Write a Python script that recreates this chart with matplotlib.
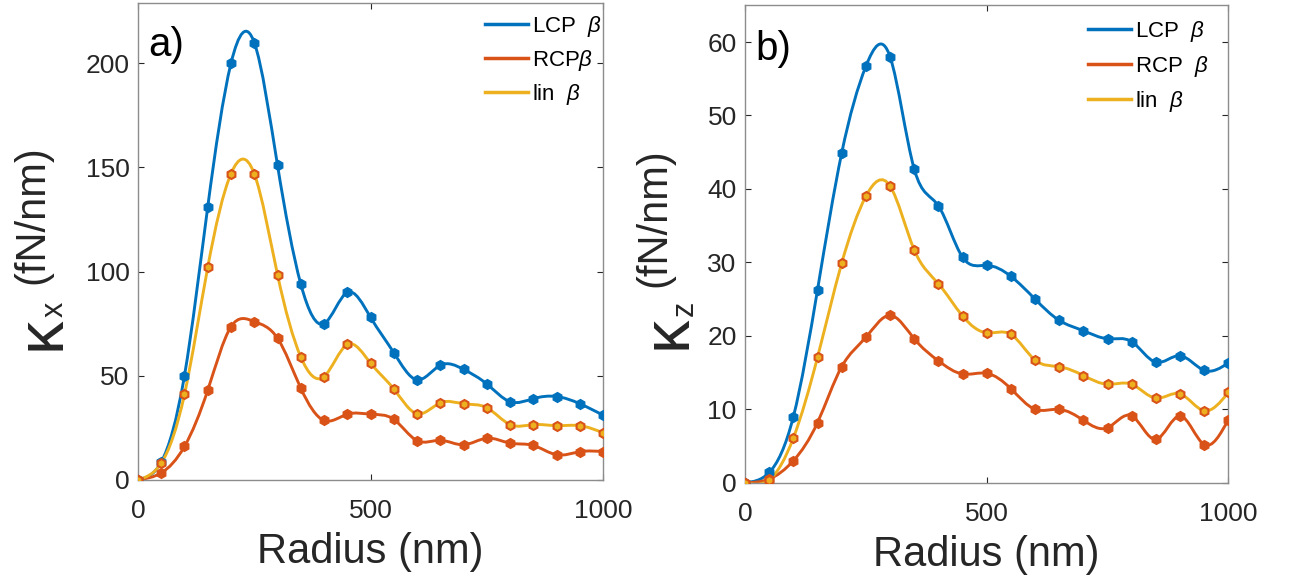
import matplotlib.pyplot as plt
import numpy as np
from matplotlib.path import Path
from matplotlib.patches import PathPatch
from matplotlib.lines import Line2D

plt.rcParams['font.family'] = ['Liberation Sans', 'DejaVu Sans']
plt.rcParams['mathtext.fontset'] = 'custom'
plt.rcParams['mathtext.rm'] = 'Liberation Sans'
plt.rcParams['mathtext.it'] = 'Liberation Sans:italic'

# Radio de la partícula (nm)
radius = np.arange(0, 1001, 50)

# a) kappa_x (fN/nm)
kx_lcp = [0, 8.5, 50, 131, 200, 210, 151, 94, 75, 90, 78, 61, 48, 55, 53, 46, 37.5, 39, 40, 36.5, 31]
kx_rcp = [0, 3.3, 16, 43, 73.5, 76, 68, 44, 28.5, 31.5, 31.5, 29, 18.8, 19, 16.8, 20, 17.6, 16.5, 12, 13.5, 13.5]
kx_lin = [0, 8, 41, 102, 147, 147, 98.5, 59, 49.6, 65, 56, 43.6, 31.7, 37, 36.5, 34.6, 26.5, 26.5, 26, 26, 22.5]

# b) kappa_z (fN/nm)
kz_lcp = [0, 1.4, 9, 26.3, 44.9, 56.7, 58, 42.7, 37.7, 30.7, 29.6, 28.1, 25, 22.1, 20.7, 19.6, 19.2, 16.4, 17.3, 15.3, 16.3]
kz_rcp = [0, 0.5, 3, 8.2, 15.8, 19.8, 22.8, 19.6, 16.6, 14.8, 14.9, 12.8, 10, 10, 8.5, 7.5, 9.1, 5.9, 9.1, 5.2, 8.6]
kz_lin = [0, 0.4, 6.1, 17.1, 29.9, 39, 40.4, 31.7, 27.1, 22.7, 20.4, 20.2, 16.7, 15.8, 14.6, 13.4, 13.4, 11.5, 12.1, 9.8, 12.3]

blue = '#0072BD'
red = '#D95319'
yellow = '#EDB120'
txt = '#262626'

W, H = 1289, 588


def spline_path(x, y):
    # Curva spline cúbica natural dibujada como segmentos Bezier
    x = np.asarray(x, float)
    y = np.asarray(y, float)
    n = len(x)
    h = np.diff(x)
    d = np.diff(y) / h
    A = np.zeros((n, n))
    b = np.zeros(n)
    A[0, 0], A[0, 1], b[0] = 2, 1, 3 * d[0]
    A[-1, -2], A[-1, -1], b[-1] = 1, 2, 3 * d[-1]
    for i in range(1, n - 1):
        A[i, i - 1] = h[i]
        A[i, i] = 2 * (h[i - 1] + h[i])
        A[i, i + 1] = h[i - 1]
        b[i] = 3 * (h[i] * d[i - 1] + h[i - 1] * d[i])
    m = np.linalg.solve(A, b)
    verts = [(x[0], y[0])]
    codes = [Path.MOVETO]
    for i in range(n - 1):
        verts += [(x[i] + h[i] / 3, y[i] + m[i] * h[i] / 3),
                  (x[i + 1] - h[i] / 3, y[i + 1] - m[i + 1] * h[i] / 3),
                  (x[i + 1], y[i + 1])]
        codes += [Path.CURVE4] * 3
    return Path(verts, codes)


def ftext(x, y, s, **kw):
    # texto en coordenadas de pixel de la figura
    fig.text(x / W, 1 - y / H, s, rotation=90, ha='center', va='center', color=txt, **kw)


def draw_panel(ax, series, ylim, yticks, tag, tag_y, labels, leg_x, leg_y, leg_sp):
    for vals, lc, mec, mfc in series:
        ax.add_patch(PathPatch(spline_path(radius, vals), fill=False, ec=lc, lw=2.1, zorder=2))
        ax.plot(radius, vals, ls='none', marker='h', ms=6.5, mec=mec, mfc=mfc, mew=1.5, zorder=3)
    ax.set_xlim(0, 1000)
    ax.set_ylim(*ylim)
    ax.set_xticks([0, 500, 1000])
    ax.set_yticks(yticks)
    ax.tick_params(direction='in', length=4, width=0.8, labelsize=19, colors=txt,
                   top=True, right=True)
    ax.tick_params(axis='x', pad=14)
    ax.tick_params(axis='y', pad=6)
    for s in ax.spines.values():
        s.set_color('#8c8c8c')
        s.set_linewidth(1)
    ax.set_xlabel('Radius (nm)', fontsize=30, color=txt, labelpad=6)
    ax.text(0.022, tag_y, tag, transform=ax.transAxes, fontsize=29, va='center', ha='left', color='k')
    handles = [Line2D([], [], color=c, lw=2.5) for c in (blue, red, yellow)]
    ax.legend(handles, labels, loc='upper left', bbox_to_anchor=(leg_x, leg_y), frameon=False,
              fontsize=16, handlelength=1.94, handletextpad=0.18, labelspacing=leg_sp,
              borderpad=0, borderaxespad=0)


fig = plt.figure(figsize=(W / 100, H / 100), dpi=100)
ax1 = fig.add_axes([0.107, 0.184, 0.361, 0.811])
ax2 = fig.add_axes([0.578, 0.179, 0.375, 0.812])

draw_panel(ax1,
           [(kx_lcp, blue, blue, blue), (kx_rcp, red, red, red), (kx_lin, yellow, red, yellow)],
           (0, 229), [0, 50, 100, 150, 200], 'a)', 0.912,
           [r'LCP  $\beta$', r'RCP$\beta$', r'lin  $\beta$'], 0.746, 0.977, 0.40)
draw_panel(ax2,
           [(kz_lcp, blue, blue, blue), (kz_rcp, red, red, red), (kz_lin, yellow, red, yellow)],
           (0, 65), [0, 10, 20, 30, 40, 50, 60], 'b)', 0.908,
           [r'LCP  $\beta$', r'RCP  $\beta$', r'lin  $\beta$'], 0.710, 0.971, 0.45)

# etiquetas del eje y: kappa grande con subíndice
ftext(32, 215, '(fN/nm)', fontsize=30)
ftext(43, 333, 'κ', fontsize=48)
ftext(55, 309, 'x', fontsize=22)
ftext(654, 218, '(fN/nm)', fontsize=30)
ftext(668, 332, 'κ', fontsize=48)
ftext(685, 308, 'z', fontsize=22)

fig.savefig('out.png', dpi=100)
